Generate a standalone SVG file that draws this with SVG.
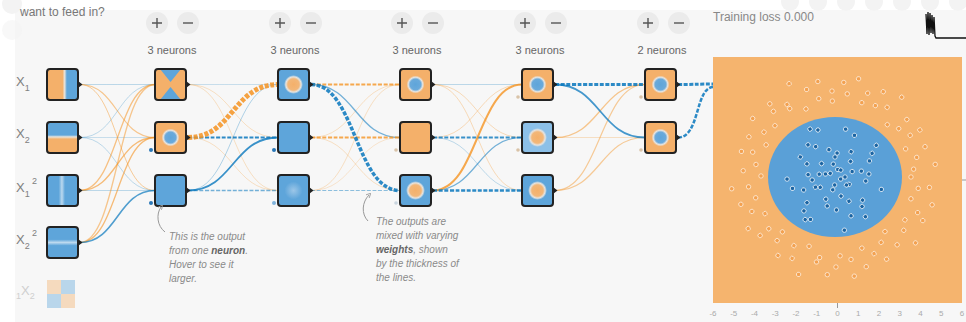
<svg xmlns="http://www.w3.org/2000/svg" width="966" height="322" viewBox="0 0 966 322">
<style>
  .txt{font-family:"Liberation Sans",Arial,Helvetica,sans-serif}
  .cnt{font-size:11px;fill:#666;text-anchor:middle}
  .inl{font-size:13px;fill:#808080}
  .note{font-size:10px;font-style:italic;fill:#8a8a8a}
  .axis{font-size:8px;fill:#aaa;text-anchor:middle}
  .btn{fill:#ebebeb}
  .ico{stroke:#555;stroke-width:1.4;fill:none}
  .nb{fill:none;stroke:#222;stroke-width:2}
  .or{fill:#f4b06a}
  .bl{fill:#5ea5da}
  .lk path{fill:none}
  .lo{stroke:#f59322}
  .lb{stroke:#0877bd}
  .dash{stroke-dasharray:4 1.6}
  .bias{stroke:none}
  .ptr{fill:none;stroke:#999;stroke-width:1}
</style>
<defs>
  <linearGradient id="gX1" x1="0" y1="0" x2="1" y2="0">
    <stop offset="0" stop-color="#f4b06a"/><stop offset="0.5" stop-color="#f4b06a"/>
    <stop offset="0.57" stop-color="#e9e4dc"/><stop offset="0.64" stop-color="#5ea5da"/>
    <stop offset="1" stop-color="#5ea5da"/>
  </linearGradient>
  <linearGradient id="gX2" x1="0" y1="0" x2="0" y2="1">
    <stop offset="0" stop-color="#5ea5da"/><stop offset="0.42" stop-color="#5ea5da"/>
    <stop offset="0.48" stop-color="#e9e4dc"/><stop offset="0.55" stop-color="#f4b06a"/>
    <stop offset="1" stop-color="#f4b06a"/>
  </linearGradient>
  <linearGradient id="gX1sq" x1="0" y1="0" x2="1" y2="0">
    <stop offset="0" stop-color="#5ea5da"/><stop offset="0.38" stop-color="#5ea5da"/>
    <stop offset="0.48" stop-color="#bcd9ef"/><stop offset="0.58" stop-color="#5ea5da"/>
    <stop offset="1" stop-color="#5ea5da"/>
  </linearGradient>
  <linearGradient id="gX2sq" x1="0" y1="0" x2="0" y2="1">
    <stop offset="0" stop-color="#5ea5da"/><stop offset="0.4" stop-color="#5ea5da"/>
    <stop offset="0.5" stop-color="#bcd9ef"/><stop offset="0.6" stop-color="#5ea5da"/>
    <stop offset="1" stop-color="#5ea5da"/>
  </linearGradient>
  <radialGradient id="haloB">
    <stop offset="0" stop-color="#5ea5da"/><stop offset="0.6" stop-color="#6aaadb"/>
    <stop offset="0.8" stop-color="#e6e4e0"/><stop offset="1" stop-color="#f4b06a"/>
  </radialGradient>
  <radialGradient id="haloO">
    <stop offset="0" stop-color="#f4b06a"/><stop offset="0.6" stop-color="#f2b779"/>
    <stop offset="0.8" stop-color="#e6e4e0"/><stop offset="1" stop-color="#5ea5da"/>
  </radialGradient>
  <radialGradient id="haloOL">
    <stop offset="0" stop-color="#f4b06a"/><stop offset="0.6" stop-color="#f2b779"/>
    <stop offset="0.8" stop-color="#e6e4e0"/><stop offset="1" stop-color="#8cc0e8"/>
  </radialGradient>
  <radialGradient id="blob">
    <stop offset="0" stop-color="#9cc6e8"/><stop offset="1" stop-color="#5ea5da"/>
  </radialGradient>
  <polygon id="tri" points="0,-3.5 4.5,0 0,3.5" fill="#222"/>
  <circle id="od" cx="835" cy="177" r="2.2" fill="#f3a150" stroke="#fff" stroke-width="0.6"/>
  <circle id="bd" cx="835" cy="177" r="2.2" fill="#1a64a3" stroke="#fff" stroke-width="0.7"/>
  <marker id="tip" viewBox="0 0 6 6" refX="3" refY="3" markerWidth="5" markerHeight="5" orient="auto">
    <path d="M0,0 L6,3 L0,6" fill="none" stroke="#999" stroke-width="1"/>
  </marker>
</defs>

<!-- page -->
<rect x="0" y="0" width="966" height="322" fill="#fff"/>
<rect class="bg" x="15" y="10" width="951" height="312" fill="#f7f7f7"/>
<circle cx="12" cy="4" r="10" fill="#f3f3f3"/>
<circle cx="12" cy="30" r="10" fill="#f3f3f3" opacity="0.6"/>
<g fill="#f3f3f3">
  <circle cx="790" cy="2" r="9"/><circle cx="818" cy="2" r="9"/><circle cx="846" cy="2" r="9"/>
  <circle cx="874" cy="2" r="9"/><circle cx="902" cy="2" r="9"/><circle cx="930" cy="2" r="9"/><circle cx="958" cy="2" r="9"/>
</g>

<text class="txt" x="20" y="15.5" font-size="12" fill="#777">want to feed in?</text>

<!-- layer controls -->
<g id="controls">
  <g><circle class="btn" cx="157" cy="23" r="11"/><path class="ico" d="M152 23h10M157 18v10"/>
     <circle class="btn" cx="188" cy="23" r="11"/><path class="ico" d="M183 23h10"/></g>
  <g><circle class="btn" cx="280" cy="23" r="11"/><path class="ico" d="M275 23h10M280 18v10"/>
     <circle class="btn" cx="311" cy="23" r="11"/><path class="ico" d="M306 23h10"/></g>
  <g><circle class="btn" cx="402" cy="23" r="11"/><path class="ico" d="M397 23h10M402 18v10"/>
     <circle class="btn" cx="433" cy="23" r="11"/><path class="ico" d="M428 23h10"/></g>
  <g><circle class="btn" cx="525" cy="23" r="11"/><path class="ico" d="M520 23h10M525 18v10"/>
     <circle class="btn" cx="556" cy="23" r="11"/><path class="ico" d="M551 23h10"/></g>
  <g><circle class="btn" cx="648" cy="23" r="11"/><path class="ico" d="M643 23h10M648 18v10"/>
     <circle class="btn" cx="679" cy="23" r="11"/><path class="ico" d="M674 23h10"/></g>
  <text class="txt cnt" x="172" y="54">3 neurons</text>
  <text class="txt cnt" x="295" y="54">3 neurons</text>
  <text class="txt cnt" x="417" y="54">3 neurons</text>
  <text class="txt cnt" x="540" y="54">3 neurons</text>
  <text class="txt cnt" x="662" y="54">2 neurons</text>
</g>

<!-- connectors -->
<g id="links" class="lk">
  <!-- inputs -> layer 1 -->
  <path class="lb" stroke-width="1" opacity="0.25" d="M80 84.5 C117.5 84.5 117.5 84.5 155 84.5"/>
  <path class="lo" stroke-width="1.1" opacity="0.5" d="M80 84.5 C117.5 84.5 117.5 137.5 155 137.5"/>
  <path class="lo" stroke-width="1" opacity="0.45" d="M80 84.5 C117.5 84.5 117.5 190.5 155 190.5"/>
  <path class="lb" stroke-width="1" opacity="0.25" d="M80 137.5 C117.5 137.5 117.5 84.5 155 84.5"/>
  <path class="lb" stroke-width="1" opacity="0.2" d="M80 137.5 C117.5 137.5 117.5 137.5 155 137.5"/>
  <path class="lb" stroke-width="1" opacity="0.25" d="M80 137.5 C117.5 137.5 117.5 190.5 155 190.5"/>
  <path class="lo" stroke-width="1.3" opacity="0.55" d="M80 190.5 C117.5 190.5 117.5 84.5 155 84.5"/>
  <path class="lo" stroke-width="1.3" opacity="0.6" d="M80 190.5 C117.5 190.5 117.5 137.5 155 137.5"/>
  <path class="lb" stroke-width="1" opacity="0.25" d="M80 190.5 C117.5 190.5 117.5 190.5 155 190.5"/>
  <path class="lo" stroke-width="1.3" opacity="0.5" d="M80 242.5 C117.5 242.5 117.5 84.5 155 84.5"/>
  <path class="lo" stroke-width="1.3" opacity="0.6" d="M80 242.5 C117.5 242.5 117.5 137.5 155 137.5"/>
  <path class="lb" stroke-width="1.6" opacity="0.7" d="M80 242.5 C117.5 242.5 117.5 190.5 155 190.5"/>

  <!-- layer 1 -> layer 2 -->
  <path class="lb" stroke-width="1" opacity="0.2" d="M188 84.5 C233 84.5 233 84.5 278 84.5"/>
  <path class="lo" stroke-width="1" opacity="0.25" d="M188 84.5 C233 84.5 233 137.5 278 137.5"/>
  <path class="lo" stroke-width="1" opacity="0.25" d="M188 84.5 C233 84.5 233 190.5 278 190.5"/>
  <path class="lo" stroke-width="1" opacity="0.25" d="M188 137.5 C233 137.5 233 190.5 278 190.5"/>
  <path class="lb" stroke-width="1" opacity="0.3" d="M188 190.5 C233 190.5 233 84.5 278 84.5"/>
  <path class="lb dash" stroke-width="1.4" opacity="0.55" d="M188 190.5 C233 190.5 233 190.5 278 190.5"/>
  <path class="lb" stroke-width="1.8" opacity="0.8" d="M188 190.5 C233 190.5 233 137.5 278 137.5"/>
  <path class="lb dash" stroke-width="2" opacity="0.85" d="M188 137.5 C233 137.5 233 137.5 278 137.5"/>
  <path class="lo dash" stroke-width="5" opacity="0.85" d="M188 137.5 C233 137.5 233 84.5 278 84.5"/>

  <!-- layer 2 -> layer 3 -->
  <path class="lo" stroke-width="1" opacity="0.25" d="M311 137.5 C355.5 137.5 355.5 84.5 400 84.5"/>
  <path class="lo" stroke-width="1" opacity="0.25" d="M311 137.5 C355.5 137.5 355.5 190.5 400 190.5"/>
  <path class="lo" stroke-width="1" opacity="0.25" d="M311 190.5 C355.5 190.5 355.5 84.5 400 84.5"/>
  <path class="lo" stroke-width="1" opacity="0.2" d="M311 190.5 C355.5 190.5 355.5 137.5 400 137.5"/>
  <path class="lb dash" stroke-width="1.2" opacity="0.45" d="M311 190.5 C355.5 190.5 355.5 190.5 400 190.5"/>
  <path class="lb" stroke-width="1.4" opacity="0.55" d="M311 84.5 C355.5 84.5 355.5 137.5 400 137.5"/>
  <path class="lo dash" stroke-width="2" opacity="0.8" d="M311 84.5 C355.5 84.5 355.5 84.5 400 84.5"/>
  <path class="lo dash" stroke-width="2" opacity="0.8" d="M311 137.5 C355.5 137.5 355.5 137.5 400 137.5"/>
  <path class="lb dash" stroke-width="3.5" opacity="0.85" d="M311 84.5 C355.5 84.5 355.5 190.5 400 190.5"/>

  <!-- layer 3 -> layer 4 -->
  <path class="lb" stroke-width="1" opacity="0.25" d="M433 84.5 C477.5 84.5 477.5 84.5 522 84.5"/>
  <path class="lo" stroke-width="1" opacity="0.3" d="M433 84.5 C477.5 84.5 477.5 137.5 522 137.5"/>
  <path class="lo" stroke-width="1" opacity="0.3" d="M433 84.5 C477.5 84.5 477.5 190.5 522 190.5"/>
  <path class="lo" stroke-width="1" opacity="0.3" d="M433 137.5 C477.5 137.5 477.5 84.5 522 84.5"/>
  <path class="lb" stroke-width="1" opacity="0.25" d="M433 137.5 C477.5 137.5 477.5 190.5 522 190.5"/>
  <path class="lb" stroke-width="1.2" opacity="0.55" d="M433 190.5 C477.5 190.5 477.5 137.5 522 137.5"/>
  <path class="lb dash" stroke-width="2" opacity="0.8" d="M433 137.5 C477.5 137.5 477.5 137.5 522 137.5"/>
  <path class="lo" stroke-width="2" opacity="0.8" d="M433 190.5 C477.5 190.5 477.5 84.5 522 84.5"/>
  <path class="lb dash" stroke-width="2.5" opacity="0.85" d="M433 190.5 C477.5 190.5 477.5 190.5 522 190.5"/>

  <!-- layer 4 -> layer 5 -->
  <path class="lo" stroke-width="1" opacity="0.25" d="M555 137.5 C600 137.5 600 137.5 645 137.5"/>
  <path class="lo" stroke-width="1.3" opacity="0.5" d="M555 137.5 C600 137.5 600 84.5 645 84.5"/>
  <path class="lo" stroke-width="1.2" opacity="0.45" d="M555 190.5 C600 190.5 600 84.5 645 84.5"/>
  <path class="lo" stroke-width="1.2" opacity="0.45" d="M555 190.5 C600 190.5 600 137.5 645 137.5"/>
  <path class="lb" stroke-width="1.8" opacity="0.75" d="M555 84.5 C600 84.5 600 137.5 645 137.5"/>
  <path class="lb dash" stroke-width="3" opacity="0.85" d="M555 84.5 C600 84.5 600 84.5 645 84.5"/>

  <!-- layer 5 -> output -->
  <path class="lb dash" stroke-width="3" opacity="0.85" d="M678 84.5 C695.5 84.5 695.5 84 713 84"/>
  <path class="lb dash" stroke-width="2.5" opacity="0.85" d="M678 137.5 C700 137.5 695 88 713 87"/>
</g>

<!-- input features -->
<g id="node-x1"><rect x="47" y="69" width="31" height="31" rx="3" fill="url(#gX1)"/><rect class="nb" x="47" y="69" width="31" height="31" rx="3"/><use href="#tri" x="78" y="84.5"/></g>
<g id="node-x2"><rect x="47" y="122" width="31" height="31" rx="3" fill="url(#gX2)"/><rect class="nb" x="47" y="122" width="31" height="31" rx="3"/><use href="#tri" x="78" y="137.5"/></g>
<g id="node-x1sq"><rect x="47" y="175" width="31" height="31" rx="3" fill="url(#gX1sq)"/><rect class="nb" x="47" y="175" width="31" height="31" rx="3"/><use href="#tri" x="78" y="190.5"/></g>
<g id="node-x2sq"><rect x="47" y="227" width="31" height="31" rx="3" fill="url(#gX2sq)"/><rect class="nb" x="47" y="227" width="31" height="31" rx="3"/><use href="#tri" x="78" y="242.5"/></g>
<g id="node-x1x2" opacity="0.4">
  <rect x="47" y="280" width="14" height="14" fill="#f4b06a"/><rect x="61" y="280" width="14" height="14" fill="#5ea5da"/>
  <rect x="47" y="294" width="14" height="14" fill="#5ea5da"/><rect x="61" y="294" width="14" height="14" fill="#f4b06a"/>
</g>

<g id="input-labels" class="txt inl">
  <text x="16" y="86">X<tspan font-size="9" dy="5">1</tspan></text>
  <text x="16" y="138">X<tspan font-size="9" dy="5">2</tspan></text>
  <text x="16" y="192">X<tspan font-size="9" dy="5">1</tspan><tspan font-size="9" x="32" y="184">2</tspan></text>
  <text x="16" y="244">X<tspan font-size="9" dy="5">2</tspan><tspan font-size="9" x="32" y="236">2</tspan></text>
  <text x="16" y="299" style="fill:#cfcfcf"><tspan font-size="9">1</tspan><tspan y="295">X</tspan><tspan font-size="9" y="299">2</tspan></text>
</g>

<!-- hidden layer 1 -->
<g id="h1-n1"><rect class="or" x="155" y="69" width="31" height="31" rx="3"/>
  <polygon class="bl" points="160,69 181,69 170.5,82"/><polygon class="bl" points="160,100 181,100 170.5,87"/>
  <rect class="nb" x="155" y="69" width="31" height="31" rx="3"/><use href="#tri" x="186" y="84.5"/></g>
<g id="h1-n2"><rect class="or" x="155" y="122" width="31" height="31" rx="3"/><circle cx="170.5" cy="137.5" r="9" fill="url(#haloB)"/>
  <rect class="nb" x="155" y="122" width="31" height="31" rx="3"/><use href="#tri" x="186" y="137.5"/>
  <circle class="bias" cx="151" cy="150" r="2" fill="#2a78b8"/></g>
<g id="h1-n3"><rect class="bl" x="155" y="175" width="31" height="31" rx="3"/>
  <rect class="nb" x="155" y="175" width="31" height="31" rx="3"/><use href="#tri" x="186" y="190.5"/>
  <circle class="bias" cx="151" cy="203" r="2" fill="#2a78b8"/></g>

<!-- hidden layer 2 -->
<g id="h2-n1"><rect class="bl" x="278" y="69" width="31" height="31" rx="3"/><circle cx="293.5" cy="84.5" r="9.5" fill="url(#haloO)"/>
  <rect class="nb" x="278" y="69" width="31" height="31" rx="3"/><use href="#tri" x="309" y="84.5"/></g>
<g id="h2-n2"><rect class="bl" x="278" y="122" width="31" height="31" rx="3"/>
  <rect class="nb" x="278" y="122" width="31" height="31" rx="3"/><use href="#tri" x="309" y="137.5"/>
  <circle class="bias" cx="274" cy="150" r="2" fill="#2a78b8"/></g>
<g id="h2-n3"><rect class="bl" x="278" y="175" width="31" height="31" rx="3"/><circle cx="293.5" cy="190.5" r="9" fill="url(#blob)"/>
  <rect class="nb" x="278" y="175" width="31" height="31" rx="3"/><use href="#tri" x="309" y="190.5"/>
  <circle class="bias" cx="274" cy="203" r="2" fill="#7fb3dc"/></g>

<!-- hidden layer 3 -->
<g id="h3-n1"><rect class="or" x="400" y="69" width="31" height="31" rx="3"/><circle cx="415.5" cy="84.5" r="9" fill="url(#haloB)"/>
  <rect class="nb" x="400" y="69" width="31" height="31" rx="3"/><use href="#tri" x="431" y="84.5"/></g>
<g id="h3-n2"><rect class="or" x="400" y="122" width="31" height="31" rx="3"/>
  <rect class="nb" x="400" y="122" width="31" height="31" rx="3"/><use href="#tri" x="431" y="137.5"/>
  <circle class="bias" cx="396" cy="150" r="1.8" fill="#d9c3a8"/></g>
<g id="h3-n3"><rect class="bl" x="400" y="175" width="31" height="31" rx="3"/><circle cx="415.5" cy="190.5" r="9.5" fill="url(#haloO)"/>
  <rect class="nb" x="400" y="175" width="31" height="31" rx="3"/><use href="#tri" x="431" y="190.5"/>
  <circle class="bias" cx="396" cy="203" r="1.8" fill="#c9d5df"/></g>

<!-- hidden layer 4 -->
<g id="h4-n1"><rect class="or" x="522" y="69" width="31" height="31" rx="3"/><circle cx="537.5" cy="84.5" r="9" fill="url(#haloB)"/>
  <rect class="nb" x="522" y="69" width="31" height="31" rx="3"/><use href="#tri" x="553" y="84.5"/>
  <circle class="bias" cx="518" cy="97" r="1.8" fill="#d9c3a8"/></g>
<g id="h4-n2"><rect x="522" y="122" width="31" height="31" rx="3" fill="#8cc0e8"/><circle cx="537.5" cy="137.5" r="9.5" fill="url(#haloOL)"/>
  <rect class="nb" x="522" y="122" width="31" height="31" rx="3"/><use href="#tri" x="553" y="137.5"/>
  <circle class="bias" cx="518" cy="150" r="1.8" fill="#d9c3a8"/></g>
<g id="h4-n3"><rect class="bl" x="522" y="175" width="31" height="31" rx="3"/><circle cx="537.5" cy="190.5" r="9.5" fill="url(#haloO)"/>
  <rect class="nb" x="522" y="175" width="31" height="31" rx="3"/><use href="#tri" x="553" y="190.5"/></g>

<!-- hidden layer 5 -->
<g id="h5-n1"><rect class="or" x="645" y="69" width="31" height="31" rx="3"/><circle cx="660.5" cy="84.5" r="9" fill="url(#haloB)"/>
  <rect class="nb" x="645" y="69" width="31" height="31" rx="3"/><use href="#tri" x="676" y="84.5"/>
  <circle class="bias" cx="641" cy="97" r="1.8" fill="#d9c3a8"/></g>
<g id="h5-n2"><rect class="or" x="645" y="122" width="31" height="31" rx="3"/><circle cx="660.5" cy="137.5" r="9" fill="url(#haloB)"/>
  <rect class="nb" x="645" y="122" width="31" height="31" rx="3"/><use href="#tri" x="676" y="137.5"/>
  <circle class="bias" cx="641" cy="150" r="1.8" fill="#d9c3a8"/></g>

<!-- callouts -->
<g id="callouts">
  <path class="ptr" d="M165 232 C157 226 156 214 161 207" marker-end="url(#tip)"/>
  <text class="txt note">
    <tspan x="169" y="240">This is the output</tspan>
    <tspan x="169" y="254">from one <tspan font-weight="bold" fill="#666">neuron</tspan>.</tspan>
    <tspan x="169" y="268">Hover to see it</tspan>
    <tspan x="169" y="282">larger.</tspan>
  </text>
  <path class="ptr" d="M368 221 C361 214 362 202 369 195" marker-end="url(#tip)"/>
  <text class="txt note">
    <tspan x="376" y="225">The outputs are</tspan>
    <tspan x="376" y="239">mixed with varying</tspan>
    <tspan x="376" y="253" font-weight="bold" fill="#666">weights</tspan><tspan>, shown</tspan>
    <tspan x="376" y="267">by the thickness of</tspan>
    <tspan x="376" y="281">the lines.</tspan>
  </text>
</g>

<!-- output -->
<g id="output">
  <text class="txt" x="713" y="21" font-size="12" fill="#888">Training loss 0.000</text>
  <path d="M926 14 L927 34 L928 12 L929 35 L930 13 L931 33 L932 15 L933 34 L934 17 L935 36 L936 38 L966 38" fill="none" stroke="#111" stroke-width="1.3"/>
  <rect x="713" y="57" width="249" height="246" fill="#f5b46e"/>
  <ellipse cx="835" cy="177" rx="67" ry="60" fill="#5aa0d7"/>
  <g id="samples-out">
    <use href="#od" transform="rotate(0 835 177) translate(76)"/>
    <use href="#od" transform="rotate(6.3 835 177) translate(95)"/>
    <use href="#od" transform="rotate(7.8 835 177) translate(84)"/>
    <use href="#od" transform="rotate(16 835 177) translate(101)"/>
    <use href="#od" transform="rotate(16 835 177) translate(79)"/>
    <use href="#od" transform="rotate(23.3 835 177) translate(90)"/>
    <use href="#od" transform="rotate(26.4 835 177) translate(98)"/>
    <use href="#od" transform="rotate(31.5 835 177) translate(82)"/>
    <use href="#od" transform="rotate(37.8 835 177) translate(87)"/>
    <use href="#od" transform="rotate(39.3 835 177) translate(104)"/>
    <use href="#od" transform="rotate(47.5 835 177) translate(74)"/>
    <use href="#od" transform="rotate(47.5 835 177) translate(92)"/>
    <use href="#od" transform="rotate(54.8 835 177) translate(80)"/>
    <use href="#od" transform="rotate(57.9 835 177) translate(97)"/>
    <use href="#od" transform="rotate(63 835 177) translate(86)"/>
    <use href="#od" transform="rotate(69.3 835 177) translate(76)"/>
    <use href="#od" transform="rotate(70.8 835 177) translate(95)"/>
    <use href="#od" transform="rotate(79 835 177) translate(84)"/>
    <use href="#od" transform="rotate(79 835 177) translate(101)"/>
    <use href="#od" transform="rotate(86.3 835 177) translate(79)"/>
    <use href="#od" transform="rotate(89.4 835 177) translate(90)"/>
    <use href="#od" transform="rotate(94.5 835 177) translate(98)"/>
    <use href="#od" transform="rotate(100.8 835 177) translate(82)"/>
    <use href="#od" transform="rotate(102.3 835 177) translate(87)"/>
    <use href="#od" transform="rotate(110.5 835 177) translate(104)"/>
    <use href="#od" transform="rotate(110.5 835 177) translate(74)"/>
    <use href="#od" transform="rotate(117.8 835 177) translate(92)"/>
    <use href="#od" transform="rotate(120.9 835 177) translate(80)"/>
    <use href="#od" transform="rotate(126 835 177) translate(97)"/>
    <use href="#od" transform="rotate(132.3 835 177) translate(86)"/>
    <use href="#od" transform="rotate(133.8 835 177) translate(76)"/>
    <use href="#od" transform="rotate(142 835 177) translate(95)"/>
    <use href="#od" transform="rotate(142 835 177) translate(84)"/>
    <use href="#od" transform="rotate(149.3 835 177) translate(101)"/>
    <use href="#od" transform="rotate(152.4 835 177) translate(79)"/>
    <use href="#od" transform="rotate(157.5 835 177) translate(90)"/>
    <use href="#od" transform="rotate(163.8 835 177) translate(98)"/>
    <use href="#od" transform="rotate(165.3 835 177) translate(82)"/>
    <use href="#od" transform="rotate(173.5 835 177) translate(87)"/>
    <use href="#od" transform="rotate(173.5 835 177) translate(104)"/>
    <use href="#od" transform="rotate(180.8 835 177) translate(74)"/>
    <use href="#od" transform="rotate(183.9 835 177) translate(92)"/>
    <use href="#od" transform="rotate(189 835 177) translate(80)"/>
    <use href="#od" transform="rotate(195.3 835 177) translate(97)"/>
    <use href="#od" transform="rotate(196.8 835 177) translate(86)"/>
    <use href="#od" transform="rotate(205 835 177) translate(76)"/>
    <use href="#od" transform="rotate(205 835 177) translate(95)"/>
    <use href="#od" transform="rotate(212.3 835 177) translate(84)"/>
    <use href="#od" transform="rotate(215.4 835 177) translate(101)"/>
    <use href="#od" transform="rotate(220.5 835 177) translate(79)"/>
    <use href="#od" transform="rotate(226.8 835 177) translate(90)"/>
    <use href="#od" transform="rotate(228.3 835 177) translate(98)"/>
    <use href="#od" transform="rotate(236.5 835 177) translate(82)"/>
    <use href="#od" transform="rotate(236.5 835 177) translate(87)"/>
    <use href="#od" transform="rotate(243.8 835 177) translate(104)"/>
    <use href="#od" transform="rotate(246.9 835 177) translate(74)"/>
    <use href="#od" transform="rotate(252 835 177) translate(92)"/>
    <use href="#od" transform="rotate(258.3 835 177) translate(80)"/>
    <use href="#od" transform="rotate(259.8 835 177) translate(97)"/>
    <use href="#od" transform="rotate(268 835 177) translate(86)"/>
    <use href="#od" transform="rotate(268 835 177) translate(76)"/>
    <use href="#od" transform="rotate(275.3 835 177) translate(95)"/>
    <use href="#od" transform="rotate(278.4 835 177) translate(84)"/>
    <use href="#od" transform="rotate(283.5 835 177) translate(101)"/>
    <use href="#od" transform="rotate(289.8 835 177) translate(79)"/>
    <use href="#od" transform="rotate(291.3 835 177) translate(90)"/>
    <use href="#od" transform="rotate(299.5 835 177) translate(98)"/>
    <use href="#od" transform="rotate(299.5 835 177) translate(82)"/>
    <use href="#od" transform="rotate(306.8 835 177) translate(87)"/>
    <use href="#od" transform="rotate(309.9 835 177) translate(104)"/>
    <use href="#od" transform="rotate(315 835 177) translate(74)"/>
    <use href="#od" transform="rotate(321.3 835 177) translate(92)"/>
    <use href="#od" transform="rotate(322.8 835 177) translate(80)"/>
    <use href="#od" transform="rotate(331 835 177) translate(97)"/>
    <use href="#od" transform="rotate(331 835 177) translate(86)"/>
    <use href="#od" transform="rotate(338.3 835 177) translate(76)"/>
    <use href="#od" transform="rotate(341.4 835 177) translate(95)"/>
    <use href="#od" transform="rotate(346.5 835 177) translate(84)"/>
    <use href="#od" transform="rotate(352.8 835 177) translate(101)"/>
    <use href="#od" transform="rotate(354.3 835 177) translate(79)"/>
  </g>
  <g id="samples-in">
    <use href="#bd" transform="rotate(0 835 177) translate(10)"/>
    <use href="#bd" transform="rotate(137.5 835 177) translate(38)"/>
    <use href="#bd" transform="rotate(275 835 177) translate(24)"/>
    <use href="#bd" transform="rotate(52.5 835 177) translate(50)"/>
    <use href="#bd" transform="rotate(190 835 177) translate(16)"/>
    <use href="#bd" transform="rotate(327.5 835 177) translate(44)"/>
    <use href="#bd" transform="rotate(105 835 177) translate(30)"/>
    <use href="#bd" transform="rotate(242.5 835 177) translate(54)"/>
    <use href="#bd" transform="rotate(20 835 177) translate(6)"/>
    <use href="#bd" transform="rotate(157.5 835 177) translate(34)"/>
    <use href="#bd" transform="rotate(295 835 177) translate(46)"/>
    <use href="#bd" transform="rotate(72.5 835 177) translate(20)"/>
    <use href="#bd" transform="rotate(210 835 177) translate(40)"/>
    <use href="#bd" transform="rotate(347.5 835 177) translate(27)"/>
    <use href="#bd" transform="rotate(125 835 177) translate(52)"/>
    <use href="#bd" transform="rotate(262.5 835 177) translate(13)"/>
    <use href="#bd" transform="rotate(40 835 177) translate(36)"/>
    <use href="#bd" transform="rotate(177.5 835 177) translate(48)"/>
    <use href="#bd" transform="rotate(315 835 177) translate(22)"/>
    <use href="#bd" transform="rotate(92.5 835 177) translate(8)"/>
    <use href="#bd" transform="rotate(230 835 177) translate(42)"/>
    <use href="#bd" transform="rotate(7.5 835 177) translate(31)"/>
    <use href="#bd" transform="rotate(145 835 177) translate(18)"/>
    <use href="#bd" transform="rotate(282.5 835 177) translate(49)"/>
    <use href="#bd" transform="rotate(60 835 177) translate(28)"/>
    <use href="#bd" transform="rotate(197.5 835 177) translate(10)"/>
    <use href="#bd" transform="rotate(335 835 177) translate(38)"/>
    <use href="#bd" transform="rotate(112.5 835 177) translate(24)"/>
    <use href="#bd" transform="rotate(250 835 177) translate(50)"/>
    <use href="#bd" transform="rotate(27.5 835 177) translate(16)"/>
    <use href="#bd" transform="rotate(165 835 177) translate(44)"/>
    <use href="#bd" transform="rotate(302.5 835 177) translate(30)"/>
    <use href="#bd" transform="rotate(80 835 177) translate(54)"/>
    <use href="#bd" transform="rotate(217.5 835 177) translate(6)"/>
    <use href="#bd" transform="rotate(355 835 177) translate(34)"/>
    <use href="#bd" transform="rotate(132.5 835 177) translate(46)"/>
    <use href="#bd" transform="rotate(270 835 177) translate(20)"/>
    <use href="#bd" transform="rotate(47.5 835 177) translate(40)"/>
    <use href="#bd" transform="rotate(185 835 177) translate(27)"/>
    <use href="#bd" transform="rotate(322.5 835 177) translate(52)"/>
    <use href="#bd" transform="rotate(100 835 177) translate(13)"/>
    <use href="#bd" transform="rotate(237.5 835 177) translate(36)"/>
    <use href="#bd" transform="rotate(15 835 177) translate(48)"/>
    <use href="#bd" transform="rotate(152.5 835 177) translate(22)"/>
    <use href="#bd" transform="rotate(290 835 177) translate(8)"/>
    <use href="#bd" transform="rotate(67.5 835 177) translate(42)"/>
    <use href="#bd" transform="rotate(205 835 177) translate(31)"/>
    <use href="#bd" transform="rotate(342.5 835 177) translate(18)"/>
    <use href="#bd" transform="rotate(120 835 177) translate(49)"/>
    <use href="#bd" transform="rotate(257.5 835 177) translate(28)"/>
    <use href="#bd" transform="rotate(35 835 177) translate(14)"/>
    <use href="#bd" transform="rotate(172.5 835 177) translate(23)"/>
    <use href="#bd" transform="rotate(310 835 177) translate(9)"/>
    <use href="#bd" transform="rotate(87.5 835 177) translate(33)"/>
    <use href="#bd" transform="rotate(225 835 177) translate(19)"/>
  </g>
  <path d="M837.5 303v5M962 180h4" stroke="#999" stroke-width="1"/>
  <g class="txt axis">
    <text x="713" y="316">-6</text><text x="733.75" y="316">-5</text><text x="754.5" y="316">-4</text>
    <text x="775.25" y="316">-3</text><text x="796" y="316">-2</text><text x="816.75" y="316">-1</text>
    <text x="837.5" y="316">0</text><text x="858.25" y="316">1</text><text x="879" y="316">2</text>
    <text x="899.75" y="316">3</text><text x="920.5" y="316">4</text><text x="941.25" y="316">5</text>
    <text x="962" y="316">6</text>
  </g>
</g>
</svg>
